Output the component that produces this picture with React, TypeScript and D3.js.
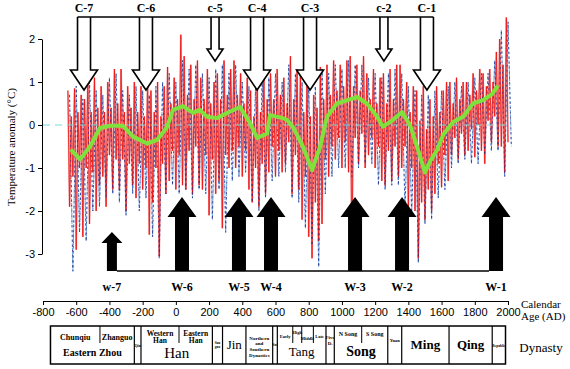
import { useEffect, useRef } from 'react';
import * as d3 from 'd3';

// axis ticks
const xTicks = d3.range(-800, 2001, 200);
const yTicks = [-3, -2, -1, 0, 1, 2];

// annual reconstruction, read as high / low swing per 20-yr bin
const redStart = -650;
const redStep = 20;
const redHi = [
  0.8, 0.2, 0.85, 0.3, 0.7,
  0.6, 1.0, 0.3, 1.1, 0.4,
  0.9, 0.3, 1.0, 0.4, 1.3,
  0.5, 1.3, 0.3, 0.9, 0.4,
  1.0, 0.3, 0.9, 0.2, 1.0,
  0.8, 0.3, 1.0, 0.2, 0.9,
  1.35, 0.5, 1.1, 0.6, 2.1,
  1.6, 0.7, 1.4, 0.6, 1.5,
  1.1, 0.6, 1.3, 0.5, 1.0,
  1.2, 0.6, 1.5, 0.7, 1.3,
  1.5, 0.7, 1.2, 0.5, 1.1,
  0.8, 0.2, 1.0, 0.3, 1.2,
  0.6, 1.2, 0.6, 1.3, 0.7,
  1.1, 0.5, 1.6, 0.6, 1.3,
  1.2, 0.3, 1.1, 0.2, 0.7,
  0.4, 1.35, 0.6, 1.4, 0.7,
  1.5, 0.8, 1.4, 0.9, 1.5,
  1.6, 0.9, 1.4, 0.8, 1.6,
  1.2, 0.6, 1.3, 0.5, 1.1,
  1.2, 0.5, 1.3, 0.6, 1.4,
  1.4, 0.6, 1.0, 0.3, 0.9,
  0.8, 0.1, 0.9, -0.1, 0.6,
  0.2, 0.9, 0.3, 0.8, 1.0,
  1.0, 0.5, 1.1, 0.6, 1.0,
  1.0, 0.7, 1.2, 0.8, 1.3,
  1.2, 0.9, 1.3, 1.0, 1.7,
  2.0, 1.4, 2.5,
];
const redLo = [
  -1.9, -1.2, -2.9, -1.0, -2.6,
  -1.0, -2.3, -1.1, -2.0, -1.4,
  -1.2, -1.9, -0.7, -1.5, -0.8,
  -1.5, -0.8, -2.0, -0.9, -1.4,
  -1.7, -0.9, -1.5, -1.0, -2.55,
  -1.8, -1.0, -3.05, -0.9, -1.6,
  -1.3, -0.6, -1.5, -0.7, -1.4,
  -1.5, -0.6, -1.6, -0.5, -1.4,
  -1.5, -0.7, -2.1, -0.8, -1.6,
  -1.3, -2.4, -0.7, -1.0, -0.6,
  -1.0, -0.5, -1.2, -0.6, -1.5,
  -1.8, -1.0, -1.9, -0.9, -1.6,
  -1.1, -0.5, -1.2, -0.6, -1.1,
  -0.9, -0.4, -1.6, -0.7, -1.5,
  -2.2, -1.2, -2.6, -3.1, -1.8,
  -2.7, -2.3, -0.8, -1.2, -0.5,
  -0.8, -0.3, -1.0, -0.4, -1.1,
  -3.1, -0.3, -0.9, -0.2, -1.0,
  -0.7, -0.3, -1.0, -0.5, -1.3,
  -1.4, -0.6, -1.3, -0.5, -1.2,
  -1.0, -0.5, -1.9, -1.0, -2.0,
  -3.1, -1.8, -2.2, -1.5, -2.0,
  -1.6, -0.9, -1.45, -0.7, -1.3,
  -0.7, -0.3, -0.8, -0.2, -0.7,
  -0.6, -0.1, -0.75, 0.0, -0.6,
  -0.9, 0.1, -0.4, 0.2, -0.5,
  -0.5, -1.1, -0.4,
];

// second (dashed blue) reconstruction, 40-yr bins
const blueStart = -640;
const blueStep = 40;
const blueHi = [
  0.7, 0.9, 0.6, 1.0, 0.8,
  0.7, 1.1, 1.2, 0.8, 0.7,
  0.9, 0.8, 0.7, 0.9, 1.0,
  1.2, 1.0, 1.5, 1.3, 1.4,
  1.2, 1.1, 1.3, 1.4, 1.2,
  1.4, 1.0, 0.9, 0.9, 1.1,
  1.1, 1.2, 1.0, 1.4, 1.2,
  1.0, 1.0, 0.9, 1.3, 1.2,
  1.4, 1.3, 1.5, 1.4, 1.4,
  1.1, 1.2, 1.1, 1.2, 1.3,
  1.2, 0.9, 0.8, 0.7, 0.7,
  0.8, 0.8, 0.9, 1.0, 0.9,
  1.0, 1.1, 1.2, 1.2, 1.5,
  2.2, 2.4,
];
const blueLo = [
  -3.4, -2.5, -2.7, -2.0, -1.9,
  -1.7, -1.6, -1.8, -2.1, -1.6,
  -2.0, -1.7, -2.6, -3.1, -1.6,
  -1.4, -1.6, -1.5, -1.7, -1.5,
  -1.6, -2.2, -1.5, -2.5, -1.3,
  -1.2, -1.1, -1.8, -2.0, -1.7,
  -1.3, -1.2, -1.1, -1.7, -1.8,
  -2.4, -2.8, -3.3, -1.6, -1.2,
  -1.0, -1.0, -1.2, -1.0, -0.9,
  -0.9, -1.4, -1.5, -1.4, -1.4,
  -2.0, -2.1, -3.2, -2.3, -2.2,
  -1.7, -1.5, -1.0, -0.9, -0.8,
  -0.9, -0.9, -0.7, -0.6, -0.6,
  -1.2, -0.5,
];

// smoothed curve
const greenYears = [-625, -577, -517, -457, -397, -318, -258, -174, -114, -53, -17, 43, 103, 145, 188, 248, 308, 386, 446, 489, 549, 567, 645, 669, 706, 766, 820, 868, 910, 970, 1091, 1151, 1211, 1247, 1308, 1362, 1410, 1452, 1500, 1530, 1573, 1609, 1669, 1729, 1789, 1850, 1904, 1934];
const greenVals = [-0.6, -0.8, -0.5, -0.07, -0.02, -0.02, -0.27, -0.43, -0.35, -0.05, 0.35, 0.44, 0.28, 0.35, 0.19, 0.16, 0.28, 0.42, 0.05, -0.3, -0.2, 0.23, 0.16, 0.12, -0.05, -0.51, -1.05, -0.51, 0.19, 0.5, 0.65, 0.5, 0.2, -0.04, 0.12, 0.3, 0.0, -0.5, -1.1, -0.85, -0.58, -0.23, 0.07, 0.19, 0.5, 0.58, 0.72, 0.88];

// cold / warm events
const coolLabels = ['C-7', 'C-6', 'c-5', 'C-4', 'C-3', 'c-2', 'C-1'];
const coolYears = [-553, -180, 236, 489, 808, 1253, 1512];
const coolMajor = [true, true, false, true, true, false, true];
const warmLabels = ['w-7', 'W-6', 'W-5', 'W-4', 'W-3', 'W-2', 'W-1'];
const warmYears = [-385, 37, 380, 573, 1079, 1362, 1928];
const warmMajor = [false, true, true, true, true, true, true];

// dynasty table
const cellEdges = [-755, -250, -210, 220, 281, 422, 583, 611, 904, 954, 1276, 1360, 1645, 1905, 1985];
const cellNames = ['Eastern Zhou', 'Qin', 'Han', 'Sanguo', 'Jin', 'Northern and Southern Dynasties', 'Sui', 'Tang', 'Five D.', 'Song', 'Yuan', 'Ming', 'Qing', 'Republic'];
const subNames = ['Chunqiu', 'Zhanguo', 'Western Han', 'Eastern Han', 'Early', 'High', 'Middle', 'Late', 'N Song', 'S Song'];
const subFrom = [-755, -457, -210, 19, 611, 704, 758, 828, 954, 1119];
const subTo = [-457, -250, 19, 220, 704, 758, 828, 904, 1119, 1276];
const subDividers = [-457, 19, 704, 758, 828, 1119];

const SERIF = '"Liberation Serif", "Times New Roman", serif';
const SANS = '"Liberation Sans", Arial, sans-serif';

export default function App() {
  const svgRef = useRef<SVGSVGElement>(null);

  useEffect(() => {
    if (!svgRef.current) return;
    document.body.style.margin = '0';
    const svg = d3.select(svgRef.current);
    svg.selectAll('*').remove();

    const x = d3.scaleLinear().domain([-800, 2000]).range([43, 508]);
    const y = d3.scaleLinear().domain([-3, 2]).range([254, 39]);

    const line = d3.line<[number, number]>()
      .x(d => x(d[0]))
      .y(d => y(d[1]));

    const redPts = redHi.flatMap((h, i) => [
      [redStart + i * redStep, h],
      [redStart + i * redStep + redStep / 2, redLo[i]],
    ]) as [number, number][];
    const bluePts = blueHi.flatMap((h, i) => [
      [blueStart + i * blueStep, h],
      [blueStart + i * blueStep + blueStep / 2, blueLo[i]],
    ]) as [number, number][];

    const plot = svg.append('g');

    plot.append('path').datum(bluePts)
      .attr('fill', 'none').attr('stroke', '#6aa6e6').attr('stroke-width', 1)
      .attr('stroke-dasharray', '3,1.5').attr('d', line);
    plot.append('path').datum(redPts)
      .attr('fill', 'none').attr('stroke', '#f5a3a3').attr('stroke-width', 1.8)
      .attr('d', line);
    plot.append('path').datum(redPts)
      .attr('fill', 'none').attr('stroke', '#ee1010').attr('stroke-width', 0.8)
      .attr('d', line);
    plot.append('path').datum(bluePts)
      .attr('fill', 'none').attr('stroke', '#25257f').attr('stroke-width', 0.7)
      .attr('stroke-dasharray', '2,3').attr('d', line);

    // zero reference line
    plot.append('line')
      .attr('x1', x(-800)).attr('x2', x(2000))
      .attr('y1', y(0)).attr('y2', y(0))
      .attr('stroke', '#7ad8d8').attr('stroke-width', 1.2)
      .attr('stroke-dasharray', '7,5');

    plot.append('path')
      .datum(greenYears.map((t, i) => [t, greenVals[i]] as [number, number]))
      .attr('fill', 'none').attr('stroke', '#7fe23c').attr('stroke-width', 4)
      .attr('stroke-linejoin', 'round').attr('stroke-linecap', 'round')
      .attr('d', line);

    // cold event arrows (hollow, pointing down)
    const topY = 17;
    coolYears.forEach((yr, i) => {
      const cx = x(yr);
      const big = coolMajor[i];
      const sw = big ? 6.5 : 4;
      const hw = big ? 13.5 : 8;
      const neck = big ? 70 : 49;
      const tip = big ? 90 : 61;
      svg.append('path')
        .attr('d', `M${cx - sw},${topY} V${neck} H${cx - hw} L${cx},${tip} L${cx + hw},${neck} H${cx + sw} V${topY}`)
        .attr('fill', '#fff').attr('stroke', '#000').attr('stroke-width', 1.6)
        .attr('stroke-linejoin', 'miter');
      svg.append('text')
        .attr('x', cx).attr('y', 12)
        .attr('text-anchor', 'middle')
        .style('font-family', SERIF).style('font-size', '12px').style('font-weight', 'bold')
        .text(coolLabels[i]);
    });
    svg.append('line')
      .attr('x1', x(coolYears[0]) - 6.5).attr('x2', x(coolYears[coolYears.length - 1]) + 6.5)
      .attr('y1', topY).attr('y2', topY)
      .attr('stroke', '#000').attr('stroke-width', 1.5);

    // warm event arrows (solid, pointing up)
    const baseY = 271;
    warmYears.forEach((yr, i) => {
      const cx = x(yr);
      const big = warmMajor[i];
      const sw = big ? 7 : 5;
      const hw = big ? 14.5 : 10.5;
      const tip = big ? 197 : 232;
      const neck = big ? 217 : 243;
      svg.append('path')
        .attr('d', `M${cx - sw},${baseY} V${neck} H${cx - hw} L${cx},${tip} L${cx + hw},${neck} H${cx + sw} V${baseY} Z`)
        .attr('fill', '#000');
      svg.append('text')
        .attr('x', cx).attr('y', 291)
        .attr('text-anchor', 'middle')
        .style('font-family', SERIF).style('font-size', '12px').style('font-weight', 'bold')
        .text(warmLabels[i]);
    });
    svg.append('line')
      .attr('x1', x(warmYears[0]) + 5).attr('x2', x(warmYears[warmYears.length - 1]) - 7)
      .attr('y1', baseY).attr('y2', baseY)
      .attr('stroke', '#000').attr('stroke-width', 1.3);

    // axes
    const yAxis = svg.append('g')
      .attr('transform', 'translate(42,0)')
      .call(d3.axisLeft(y).tickValues(yTicks).tickSize(4).tickSizeOuter(0).tickFormat(d => String(d)));
    const xAxis = svg.append('g')
      .attr('transform', 'translate(0,301)')
      .call(d3.axisBottom(x).tickValues(xTicks).tickSize(4).tickSizeOuter(0).tickFormat(d => String(d)));
    [yAxis, xAxis].forEach(a => {
      a.selectAll('text').style('font-family', SANS).style('font-size', '11px').attr('fill', '#000');
      a.selectAll('line, path').attr('stroke', '#000');
    });

    svg.append('text')
      .attr('transform', 'translate(15,147) rotate(-90)')
      .attr('text-anchor', 'middle')
      .style('font-family', SERIF).style('font-size', '11px')
      .text('Temperature anomaly (°C)');

    svg.append('text').attr('x', 521).attr('y', 308)
      .style('font-family', SERIF).style('font-size', '11px').text('Calendar');
    svg.append('text').attr('x', 521).attr('y', 320)
      .style('font-family', SERIF).style('font-size', '11px').text('Age (AD)');

    // dynasty table
    const tTop = 326;
    const tBot = 364;
    const table = svg.append('g');
    table.append('rect')
      .attr('x', x(cellEdges[0])).attr('y', tTop)
      .attr('width', x(cellEdges[cellEdges.length - 1]) - x(cellEdges[0]))
      .attr('height', tBot - tTop)
      .attr('fill', 'none').attr('stroke', '#000').attr('stroke-width', 1.5);
    cellEdges.slice(1, -1).forEach(e => {
      table.append('line')
        .attr('x1', x(e)).attr('x2', x(e)).attr('y1', tTop).attr('y2', tBot)
        .attr('stroke', '#000').attr('stroke-width', 1.2);
    });
    subDividers.forEach(e => {
      table.append('line')
        .attr('x1', x(e)).attr('x2', x(e)).attr('y1', tTop).attr('y2', 343)
        .attr('stroke', '#000').attr('stroke-width', 1);
    });

    const cellStyle = (name: string): { size: number; bold: boolean; lines: string[]; ys: number[] } => {
      switch (name) {
        case 'Eastern Zhou': return { size: 10, bold: true, lines: [name], ys: [356] };
        case 'Qin': return { size: 4, bold: true, lines: [name], ys: [347] };
        case 'Han': return { size: 15, bold: false, lines: [name], ys: [357.5] };
        case 'Sanguo': return { size: 3.5, bold: true, lines: ['San', 'guo'], ys: [344, 348] };
        case 'Jin': return { size: 13, bold: false, lines: [name], ys: [349] };
        case 'Northern and Southern Dynasties':
          return { size: 5, bold: true, lines: ['Northern', 'and', 'Southern', 'Dynasties'], ys: [339.5, 345, 350.5, 356.5] };
        case 'Sui': return { size: 3.5, bold: true, lines: [name], ys: [346] };
        case 'Tang': return { size: 13, bold: false, lines: [name], ys: [356] };
        case 'Five D.': return { size: 5, bold: true, lines: ['Five', 'D.'], ys: [339, 345] };
        case 'Song': return { size: 14, bold: true, lines: [name], ys: [356] };
        case 'Yuan': return { size: 4.5, bold: true, lines: [name], ys: [342] };
        case 'Ming': return { size: 13, bold: true, lines: [name], ys: [349] };
        case 'Qing': return { size: 13, bold: true, lines: [name], ys: [349] };
        default: return { size: 3.5, bold: true, lines: [name], ys: [347] };
      }
    };
    cellNames.forEach((name, i) => {
      const st = cellStyle(name);
      const cx = (x(cellEdges[i]) + x(cellEdges[i + 1])) / 2;
      st.lines.forEach((ln, j) => {
        table.append('text')
          .attr('x', cx).attr('y', st.ys[j])
          .attr('text-anchor', 'middle')
          .style('font-family', SERIF).style('font-size', `${st.size}px`)
          .style('font-weight', st.bold ? 'bold' : 'normal')
          .text(ln);
      });
    });

    const subStyle = (name: string): { size: number; lines: string[]; ys: number[] } => {
      if (name === 'Chunqiu' || name === 'Zhanguo') return { size: 8, lines: [name], ys: [340] };
      if (name.endsWith('Han')) return { size: 7.5, lines: name.split(' '), ys: [335.5, 343] };
      if (name === 'N Song' || name === 'S Song') return { size: 6, lines: [name], ys: [336] };
      const tangY: Record<string, number> = { Early: 338, High: 334, Middle: 340, Late: 338 };
      return { size: 4.5, lines: [name], ys: [tangY[name]] };
    };
    subNames.forEach((name, i) => {
      const st = subStyle(name);
      const cx = (x(subFrom[i]) + x(subTo[i])) / 2;
      st.lines.forEach((ln, j) => {
        table.append('text')
          .attr('x', cx).attr('y', st.ys[j])
          .attr('text-anchor', 'middle')
          .style('font-family', SERIF).style('font-size', `${st.size}px`)
          .style('font-weight', 'bold')
          .text(ln);
      });
    });

    svg.append('text').attr('x', 541).attr('y', 352)
      .attr('text-anchor', 'middle')
      .style('font-family', SERIF).style('font-size', '13px')
      .text('Dynasty');
  }, []);

  return (
    <svg
      ref={svgRef}
      width={570}
      height={369}
      style={{ display: 'block', background: '#fff' }}
    ></svg>
  );
}
